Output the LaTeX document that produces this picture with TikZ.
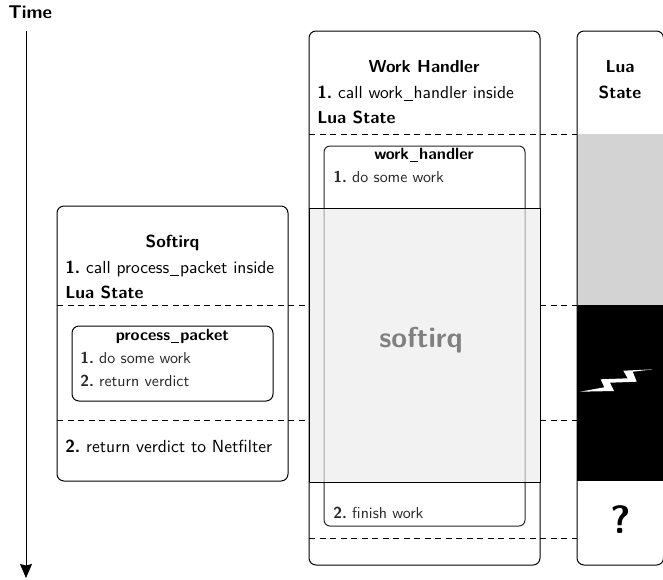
\documentclass[tikz,border=0pt]{standalone}
\usetikzlibrary{arrows.meta}
\definecolor{softgrey}{HTML}{F2F2F2}
\definecolor{luagrey}{HTML}{D3D3D3}
\definecolor{softtext}{HTML}{808080}
\renewcommand{\familydefault}{\sfdefault}
\newcommand{\nb}[1]{\textbf{#1.}~}
\newcommand{\usc}{\kern.06em\rule[-.14em]{.5em}{.045em}\kern.06em}
\tikzset{
  panel/.style={draw=black,line width=1pt,rounded corners=7pt},
  inner panel/.style={draw=black!85,line width=1pt,rounded corners=6pt},
  sep/.style={draw=black,line width=1pt,dash pattern=on 6.4pt off 4.1pt},
  tenpt/.style={font=\fontsize{10}{12}\selectfont,inner sep=0pt},
  big/.style={tenpt,font=\fontsize{10}{12}\selectfont\bfseries,scale=1.74,anchor=base},
  bigl/.style={tenpt,scale=1.75,anchor=base west},
  small/.style={tenpt,scale=1.59,anchor=base west,text=black!85},
  smallh/.style={tenpt,font=\fontsize{10}{12}\selectfont\bfseries,scale=1.63,anchor=base},
}
\begin{document}
\begin{tikzpicture}[x=1pt,y=-1pt]
\useasboundingbox (0,0) rectangle (663,579);
% time arrow
\node[big,scale=1.06,anchor=base west] (time) at (8,18) {Time};
\coordinate (tA) at (26,31);
\coordinate (tB) at (26,578);
\draw[line width=1pt,-{Stealth[length=14pt,width=12pt,inset=1.5pt]}] (tA) -- (tB);
% separators
\draw[sep] (57,305) -- (309,305) (540,305) -- (577,305);
\draw[sep] (57,420) -- (309,420) (540,420) -- (577,420);
\draw[sep] (309,134) -- (577,134);
\draw[sep] (309,538) -- (577,538);
% Lua state column
\begin{scope}
\clip (570,25) rectangle (663,570);
\fill[luagrey] (577,134) rectangle (670,305);
\fill[black] (577,305) rectangle (670,481);
\draw[panel] (577,31) rectangle (663.5,565);
\end{scope}
\fill[white] (580,391.7) -- (604.3,387.3) -- (600.7,379.3) -- (627.7,378.3) -- (623.3,370.7) -- (653.3,369.3) -- (632.7,371.7) -- (636.7,381.7) -- (610,382.7) -- (614,391) -- cycle;
% softirq box
\draw[panel] (57,206) rectangle (288,481);
\draw[inner panel,draw=black,rounded corners=7pt] (72,326) rectangle (273,401);
% work handler box
\draw[panel] (309,31) rectangle (540,565);
% softirq overlay
\fill[softgrey] (309,208) rectangle (540,482);
\draw[inner panel] (324,146) rectangle (525,526);
\fill[softgrey,opacity=.62] (309,208) rectangle (540,482);
\draw[line width=1pt] (309,208) rectangle (540,482);
\node[big,scale=1.65,text=softtext] (softlabel) at (421,347) {softirq};
% texts: work handler
\node[big] (whT) at (424,72) {Work Handler};
\node[bigl] (wh1) at (317,98) {\nb{1}call work\usc handler inside};
\node[big,anchor=base west] (wh2) at (317,123) {Lua State};
\node[smallh] (whf) at (424,159) {work\usc handler};
\node[small] (whf1) at (333,182) {\nb{1}do some work};
\node[small] (whf2) at (333,518) {\nb{2}finish work};
% texts: softirq
\node[big] (siT) at (172.5,247) {Softirq};
\node[bigl] (si1) at (65,273) {\nb{1}call process\usc packet inside};
\node[big,anchor=base west] (si2) at (65,298) {Lua State};
\node[smallh] (spf) at (172.5,340) {process\usc packet};
\node[small] (spf1) at (80,363) {\nb{1}do some work};
\node[small] (spf2) at (80,386) {\nb{2}return verdict};
\node[bigl] (si3) at (65,452) {\nb{2}return verdict to Netfilter};
% texts: Lua state
\node[big] (ls1) at (620,72) {Lua};
\node[big] (ls2) at (620,98) {State};
\node[big,scale=2.27,text=black] (q) at (621,533) {?};
\end{tikzpicture}
\end{document}
